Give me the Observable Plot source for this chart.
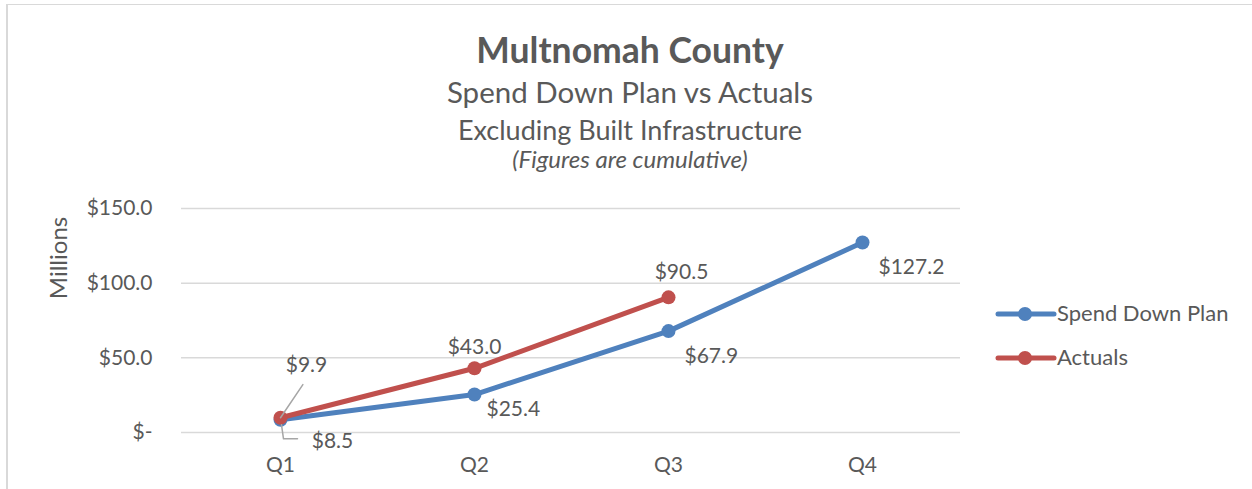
<!DOCTYPE html>
<html>
<head>
<meta charset="utf-8">
<script src="https://cdn.jsdelivr.net/npm/d3@7"></script>
<script src="https://cdn.jsdelivr.net/npm/@observablehq/plot@0.6"></script>
<style>
  html, body { margin: 0; padding: 0; background: #fff; }
  #wrap { position: relative; width: 1252px; height: 489px; overflow: hidden; font-family: Lato, "Open Sans", sans-serif; color: #595959; }
  .frame { position: absolute; left: 6px; top: 4px; right: -10px; bottom: -10px; border-top: 1.5px solid #D9D9D9; border-left: 2px solid #D9D9D9; }
  #titles { position: relative; height: 185px; }
  .t { position: absolute; left: 0; width: 1260px; text-align: center; line-height: 1; white-space: nowrap; }
  #chart { position: relative; height: 304px; }
  .lg { position: absolute; line-height: 1; white-space: nowrap; font-size: 22px; }
  #ylabel { position: absolute; left: 58px; top: 258px; transform: translate(-50%, -50%) rotate(-90deg); font-size: 24px; line-height: 1; white-space: nowrap; }
</style>
</head>
<body>
<div id="wrap">
  <div class="frame"></div>
  <div id="titles">
    <div class="t" style="top:32px;font-size:35.5px;font-weight:700;">Multnomah County</div>
    <div class="t" style="top:77px;font-size:29.5px;">Spend Down Plan vs Actuals</div>
    <div class="t" style="top:116px;font-size:27px;">Excluding Built Infrastructure</div>
    <div class="t" style="top:147px;font-size:24px;font-style:italic;">(Figures are cumulative)</div>
  </div>
  <div id="chart"></div>
  <div id="ylabel">Millions</div>
  <svg id="swatches" width="70" height="70" style="position:absolute;left:990px;top:300px;overflow:visible"></svg>
  <div id="legendText"></div>
</div>
<script>
// ---- data ----
const quarters = ["Q1", "Q2", "Q3", "Q4"];
const planValues = [8.5, 25.4, 67.9, 127.2];
const actualValues = [9.9, 43.0, 90.5];
const yTicks = [0, 50, 100, 150];
const seriesNames = ["Spend Down Plan", "Actuals"];
const seriesColors = ["#4F81BD", "#C0504D"];

const plan = planValues.map((v, i) => ({q: quarters[i], v, i, s: seriesNames[0]}));
const actual = actualValues.map((v, i) => ({q: quarters[i], v, i, s: seriesNames[1]}));
const fmt = v => v === 0 ? "$-" : "$" + v.toFixed(1);

const leaderLine = {draw(ctx, l) { ctx.moveTo(0, 0); ctx.lineTo(0, -l); }};
const leaderElbow = {draw(ctx, l) { ctx.moveTo(1, 5); ctx.lineTo(3, l); ctx.lineTo(17, l); }};

const textStyle = {fontSize: 21, fill: "#595959", fontFamily: "Lato"};

const chart = Plot.plot({
  width: 1252,
  height: 304,
  marginTop: 23,
  marginBottom: 57,
  marginLeft: 181,
  marginRight: 292,
  style: {fontFamily: "Lato", background: "transparent", color: "#595959", overflow: "visible"},
  x: {type: "point", domain: quarters, padding: 0.5, label: null},
  y: {domain: [0, 150], label: null},
  marks: [
    Plot.gridY(yTicks, {stroke: "#D9D9D9", strokeOpacity: 1, strokeWidth: 1.5}),
    Plot.axisY({ticks: yTicks, tickSize: 0, tickPadding: 29, tickFormat: fmt, label: null, ...textStyle}),
    Plot.axisX({tickSize: 0, tickPadding: 25, label: null, ...textStyle}),
    Plot.line(plan, {x: "q", y: "v", stroke: seriesColors[0], strokeWidth: 5, strokeLinejoin: "round", strokeLinecap: "round"}),
    Plot.dot(plan, {x: "q", y: "v", r: 7, fill: seriesColors[0]}),
    Plot.line(actual, {x: "q", y: "v", stroke: seriesColors[1], strokeWidth: 5, strokeLinejoin: "round", strokeLinecap: "round"}),
    Plot.dot(actual, {x: "q", y: "v", r: 7, fill: seriesColors[1]}),
    // leader lines for Q1 labels
    Plot.vector(actual, {filter: d => d.i === 0, x: "q", y: "v", length: 40, rotate: 34, anchor: "start", shape: leaderLine, stroke: "#A6A6A6", strokeWidth: 1.5}),
    Plot.vector(plan, {filter: d => d.i === 0, x: "q", y: "v", length: 19, rotate: 0, anchor: "start", shape: leaderElbow, stroke: "#A6A6A6", strokeWidth: 1.5, fill: "none"}),
    // plan labels
    Plot.text(plan, {filter: d => d.i === 0, x: "q", y: "v", text: d => fmt(d.v), dx: 52, dy: 21, ...textStyle}),
    Plot.text(plan, {filter: d => d.i === 1, x: "q", y: "v", text: d => fmt(d.v), textAnchor: "start", dx: 12, dy: 15, ...textStyle}),
    Plot.text(plan, {filter: d => d.i >= 2, x: "q", y: "v", text: d => fmt(d.v), textAnchor: "start", dx: 16, dy: 25, ...textStyle}),
    // actual labels
    Plot.text(actual, {filter: d => d.i === 0, x: "q", y: "v", text: d => fmt(d.v), dx: 26, dy: -52, ...textStyle}),
    Plot.text(actual, {filter: d => d.i === 1, x: "q", y: "v", text: d => fmt(d.v), dx: 0, dy: -21, ...textStyle}),
    Plot.text(actual, {filter: d => d.i === 2, x: "q", y: "v", text: d => fmt(d.v), dx: 13, dy: -25, ...textStyle})
  ]
});
document.getElementById("chart").appendChild(chart);

// ---- legend ----
const sw = d3.select("#swatches");
const lt = document.getElementById("legendText");
const rowCenters = [314, 358];
seriesNames.forEach((name, k) => {
  const cy = rowCenters[k] - 300;
  sw.append("line").attr("x1", 8).attr("x2", 64).attr("y1", cy).attr("y2", cy)
    .attr("stroke", seriesColors[k]).attr("stroke-width", 5).attr("stroke-linecap", "round");
  sw.append("circle").attr("cx", 35).attr("cy", cy).attr("r", 7).attr("fill", seriesColors[k]);
  const el = document.createElement("div");
  el.className = "lg";
  el.textContent = name;
  el.style.left = "1057px";
  el.style.top = (rowCenters[k] + 8 - 0.887 * 22) + "px";
  lt.appendChild(el);
});
</script>
</body>
</html>
